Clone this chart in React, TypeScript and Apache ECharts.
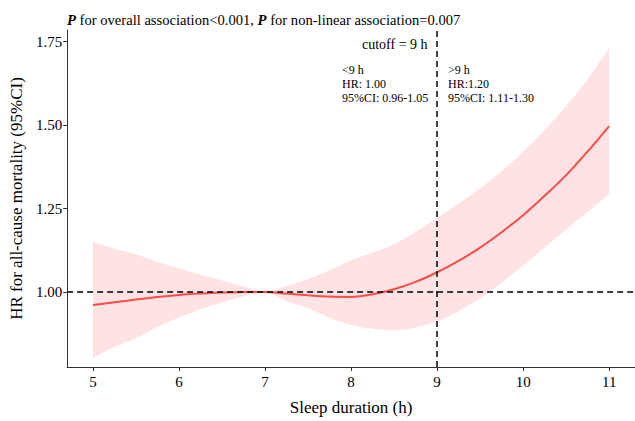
import React, { useEffect, useRef } from "react";
import * as echarts from "echarts";

const sleepHours = [5, 5.25, 5.5, 5.75, 6, 6.25, 6.5, 6.75, 7, 7.25, 7.5, 7.75, 8, 8.25, 8.5, 8.75, 9, 9.25, 9.5, 9.75, 10, 10.25, 10.5, 10.75, 11];
const hrValues = [0.961, 0.969, 0.977, 0.985, 0.991, 0.995, 0.998, 1.0, 1.0, 0.995, 0.99, 0.986, 0.985, 0.993, 1.008, 1.03, 1.059, 1.093, 1.133, 1.179, 1.23, 1.288, 1.35, 1.421, 1.497];
const lowerCI = [0.803, 0.835, 0.862, 0.895, 0.923, 0.948, 0.968, 0.987, 1.0, 0.972, 0.951, 0.922, 0.901, 0.89, 0.886, 0.893, 0.911, 0.942, 0.98, 1.028, 1.079, 1.133, 1.187, 1.24, 1.293];
const upperCI = [1.15, 1.13, 1.113, 1.09, 1.071, 1.052, 1.034, 1.016, 1.0, 1.018, 1.039, 1.065, 1.094, 1.118, 1.143, 1.18, 1.222, 1.265, 1.311, 1.362, 1.42, 1.485, 1.557, 1.638, 1.732];
const xTicks = [5, 6, 7, 8, 9, 10, 11];
const yTicks = [1.0, 1.25, 1.5, 1.75];
const cutoff = 9;
const refHR = 1.0;
const titleText = "{i|P} for overall association<0.001, {i|P} for non-linear association=0.007";
const cutoffText = "cutoff = 9 h";
const leftNote = ["<9 h", "HR: 1.00", "95%CI: 0.96-1.05"];
const rightNote = [">9 h", "HR:1.20", "95%CI: 1.11-1.30"];

const FONT = "Liberation Serif, serif";

export default function App() {
  const ref = useRef<HTMLDivElement>(null);
  useEffect(() => {
    if (!ref.current) return;
    const chart = echarts.init(ref.current, null, { renderer: "svg" });
    // data stored as [y, x] so that the stack is computed on the y dimension
    const lowerData = sleepHours.map((x, i) => [lowerCI[i], x]);
    const bandData = sleepHours.map((x, i) => [upperCI[i] - lowerCI[i], x]);
    const lineData = sleepHours.map((x, i) => [x, hrValues[i]]);
    const noteStyle = { fontFamily: FONT, fontSize: 12, fill: "#000" };
    chart.setOption({
      animation: false,
      backgroundColor: "#fff",
      textStyle: { fontFamily: FONT },
      title: {
        text: titleText,
        left: 62,
        top: 7,
        textStyle: {
          fontFamily: FONT,
          fontSize: 14.6,
          fontWeight: "normal",
          color: "#000",
          rich: {
            i: { fontFamily: FONT, fontSize: 14.6, fontStyle: "italic", fontWeight: "bold", color: "#000" },
          },
        },
      },
      grid: { left: 66, right: 0, top: 30, bottom: 54 },
      xAxis: {
        type: "value",
        min: 4.7,
        max: 11.3,
        name: "Sleep duration (h)",
        nameLocation: "middle",
        nameGap: 32,
        nameTextStyle: { fontFamily: FONT, fontSize: 17, color: "#000" },
        axisLine: { show: true, lineStyle: { color: "#333", width: 1 } },
        axisTick: { show: true, length: 4, customValues: xTicks, lineStyle: { color: "#333" } },
        axisLabel: { customValues: xTicks, fontFamily: FONT, fontSize: 15, color: "#000", margin: 7 },
        splitLine: { show: false },
      },
      yAxis: {
        type: "value",
        min: 0.775,
        max: 1.785,
        name: "HR for all-cause mortality (95%CI)",
        nameLocation: "middle",
        nameGap: 34,
        nameTextStyle: { fontFamily: FONT, fontSize: 17, color: "#000" },
        axisLine: { show: true, lineStyle: { color: "#333", width: 1 } },
        axisTick: { show: true, length: 4, customValues: yTicks, lineStyle: { color: "#333" } },
        axisLabel: {
          customValues: yTicks,
          fontFamily: FONT,
          fontSize: 15,
          color: "#000",
          margin: 5,
          formatter: (v: number) => v.toFixed(2),
        },
        splitLine: { show: false },
      },
      series: [
        {
          type: "line",
          data: lowerData,
          encode: { x: 1, y: 0 },
          stack: "ci",
          smooth: 0.3,
          symbol: "none",
          lineStyle: { opacity: 0 },
          silent: true,
        },
        {
          type: "line",
          data: bandData,
          encode: { x: 1, y: 0 },
          stack: "ci",
          smooth: 0.3,
          symbol: "none",
          lineStyle: { opacity: 0 },
          areaStyle: { color: "#FFE3E4", opacity: 1 },
          silent: true,
        },
        {
          type: "line",
          data: lineData,
          smooth: 0.3,
          symbol: "none",
          lineStyle: { color: "#FF4A4A", width: 2 },
          z: 3,
          markLine: {
            silent: true,
            symbol: "none",
            label: { show: false },
            lineStyle: { color: "#000", type: [6, 4], width: 1.5 },
            data: [{ yAxis: refHR }, { xAxis: cutoff }],
          },
        },
      ],
      graphic: [
        { type: "text", left: 362, top: 37, z: 10, style: { text: cutoffText, fontFamily: FONT, fontSize: 14, fill: "#000" } },
        { type: "text", left: 342, top: 63, z: 10, style: { ...noteStyle, text: leftNote.join("\n"), lineHeight: 14 } },
        { type: "text", left: 448, top: 63, z: 10, style: { ...noteStyle, text: rightNote.join("\n"), lineHeight: 14 } },
      ],
    });
    return () => chart.dispose();
  }, []);
  return <div ref={ref} style={{ width: 635, height: 421, position: "absolute", left: 0, top: 0 }} />;
}
